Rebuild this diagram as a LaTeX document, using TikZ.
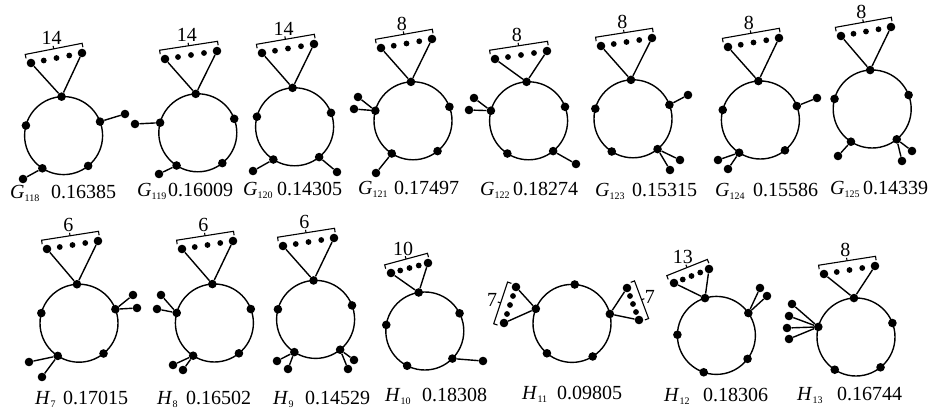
\documentclass[tikz,border=0pt]{standalone}
\usepackage{fontspec}
\setmainfont{Liberation Serif}
\usetikzlibrary{calc}
\tikzset{
  bigdot/.style={circle,fill=black,inner sep=0pt,minimum size=8.6pt},
  smalldot/.style={circle,fill=black,inner sep=0pt,minimum size=5.8pt},
  cycline/.style={line width=1.4pt},
  edg/.style={line width=1.4pt},
  brk/.style={line width=1.1pt},
  txt/.style={inner sep=0pt,font=\fontsize{20}{24}\selectfont},
}
% cycle with five vertices: name, cx, cy, rotation
\newcommand\cyc[4]{%
  \coordinate (#1c) at (#2,#3);
  \draw[cycline] (#1c) circle[radius=39pt];
  \foreach \kk/\ang in {1/90,2/162,3/234,4/306,5/18}{%
    \node[bigdot] (#1-\kk) at ($(#1c)+({\ang+#4}:39pt)$) {};}%
}
% pendant: from, name, x, y
\newcommand\pend[4]{%
  \node[bigdot] (#2) at (#3,#4) {};
  \draw[edg] (#1) -- (#2);}
% fan: name, apex, Lx, Ly, Rx, Ry, label, label distance
\newcommand\fan[8]{%
  \node[bigdot] (#1L) at (#3,#4) {};
  \node[bigdot] (#1R) at (#5,#6) {};
  \foreach \pos/\idx in {0.25/1,0.5/2,0.75/3}{%
    \node[smalldot] (#1m\idx) at ($(#1L)!\pos!(#1R)$) {};}
  \draw[edg] (#2) -- (#1L);
  \draw[edg] (#2) -- (#1R);
  \coordinate (#1p) at ($(#1L)!-4pt!(#1R)$);
  \coordinate (#1q) at ($(#1R)!-2pt!(#1L)$);
  \coordinate (#1P) at ($(#1p)!9.5pt!90:(#1q)$);
  \coordinate (#1Q) at ($(#1q)!9.5pt!-90:(#1p)$);
  \coordinate (#1Pt) at ($(#1P)!4pt!-90:(#1Q)$);
  \coordinate (#1Qt) at ($(#1Q)!4pt!90:(#1P)$);
  \coordinate (#1M) at ($(#1P)!0.5!(#1Q)$);
  \coordinate (#1Mt) at ($(#1M)!3pt!90:(#1Q)$);
  \draw[brk] (#1Pt) -- (#1P) -- (#1Q) -- (#1Qt);
  \draw[brk] (#1M) -- (#1Mt);
  \node[txt] (#1n) at ($(#1M)!#8!90:(#1Q)$) {#7};
}
% graph label: name, letter, subscript, x, baseline y, number x, number
\newcommand\glab[7]{%
  \node[txt,anchor=base west] (#1a) at (#4,#5) {\textit{#2}\raisebox{-3pt}{\fontsize{10}{10}\selectfont #3}};
  \node[txt,anchor=base west] (#1b) at (#6,#5) {#7};
}
\begin{document}
\begin{tikzpicture}[x=1pt,y=1pt]
\useasboundingbox (0,0) rectangle (935,416);

% G118
\cyc{g118}{63.6}{280.4}{3}
\fan{g118f}{g118-1}{31}{353}{82}{363}{14}{11pt}
\pend{g118-5}{g118p1}{125}{302}
\pend{g118-3}{g118p2}{23}{237}
\glab{g118l}{G}{118}{10}{218}{51}{0.16385}

% G119
\cyc{g119}{197.8}{283.2}{3}
\fan{g119f}{g119-1}{165}{357}{217}{365}{14}{11pt}
\pend{g119-2}{g119p1}{135}{292}
\pend{g119-3}{g119p2}{159}{242}
\glab{g119l}{G}{119}{137}{219.5}{168}{0.16009}

% G120
\cyc{g120}{294.6}{289.2}{3}
\fan{g120f}{g120-1}{262}{363}{314}{372}{14}{11pt}
\pend{g120-3}{g120p1}{253}{245}
\pend{g120-4}{g120p2}{337}{244}
\glab{g120l}{G}{120}{243}{221}{277}{0.14305}

% G121
\cyc{g121}{413}{295.2}{3}
\fan{g121f}{g121-1}{381}{368}{432}{377}{8}{11pt}
\pend{g121-2}{g121p1}{358}{319}
\pend{g121-2}{g121p2}{354}{307}
\pend{g121-3}{g121p3}{376}{243}
\glab{g121l}{G}{121}{358}{221.5}{394}{0.17497}

% G122
\cyc{g122}{528.6}{295.2}{3}
\fan{g122f}{g122-1}{495}{357}{547}{365}{8}{11pt}
\pend{g122-2}{g122p1}{474}{318}
\pend{g122-2}{g122p2}{469}{306}
\pend{g122-4}{g122p3}{576}{252}
\glab{g122l}{G}{122}{480}{221}{513}{0.18274}

% G123
\cyc{g123}{633}{297.2}{3}
\fan{g123f}{g123-1}{601}{370}{652}{378}{8}{11pt}
\pend{g123-5}{g123p1}{688}{321}
\pend{g123-4}{g123p2}{680}{256}
\pend{g123-4}{g123p3}{670}{246}
\glab{g123l}{G}{123}{595}{220}{632}{0.15315}

% G124
\cyc{g124}{760.4}{296}{3}
\fan{g124f}{g124-1}{728}{369}{779}{378}{8}{11pt}
\pend{g124-5}{g124p1}{817}{318}
\pend{g124-3}{g124p2}{718}{256}
\pend{g124-3}{g124p3}{728}{247}
\glab{g124l}{G}{124}{715}{220}{753}{0.15586}

% G125
\cyc{g125}{872.2}{307}{3}
\fan{g125f}{g125-1}{841}{380}{891}{389}{8}{11pt}
\pend{g125-3}{g125p1}{838}{260}
\pend{g125-4}{g125p2}{912}{265}
\pend{g125-4}{g125p3}{902}{255}
\glab{g125l}{G}{125}{830}{222}{863}{0.14339}

% H7
\cyc{h7}{79}{92.8}{3}
\fan{h7f}{h7-1}{47}{167}{98}{175}{6}{11pt}
\pend{h7-5}{h7p1}{133}{121}
\pend{h7-5}{h7p2}{137}{108}
\pend{h7-3}{h7p3}{29}{54}
\pend{h7-3}{h7p4}{42}{39}
\glab{h7l}{H}{7}{35}{11.5}{63}{0.17015}

% H8
\cyc{h8}{214.4}{93}{3}
\fan{h8f}{h8-1}{182}{167}{233}{175}{6}{11pt}
\pend{h8-2}{h8p1}{161}{121}
\pend{h8-2}{h8p2}{157}{107}
\pend{h8-3}{h8p3}{173}{51}
\pend{h8-3}{h8p4}{183}{46}
\glab{h8l}{H}{8}{157}{11.5}{186}{0.16502}

% H9
\cyc{h9}{315.6}{96.6}{3}
\fan{h9f}{h9-1}{283}{170}{334}{178}{6}{11pt}
\pend{h9-3}{h9p1}{277}{55}
\pend{h9-3}{h9p2}{288}{47}
\pend{h9-4}{h9p3}{354}{56}
\pend{h9-4}{h9p4}{348}{47}
\glab{h9l}{H}{9}{273}{11.5}{305}{0.14529}

% H10
\cyc{h10}{424.8}{85}{9}
\fan{h10f}{h10-1}{391}{143}{428}{153}{10}{11pt}
\pend{h10-4}{h10p1}{483}{55}
\glab{h10l}{H}{10}{385}{14.5}{422}{0.18308}

% H11
\cyc{h11}{572}{92.6}{-4}
\fan{h11f}{h11-2}{504}{93}{516}{129}{7}{9pt}
\fan{h11g}{h11-5}{627}{128}{639}{96}{7}{9pt}
\glab{h11l}{H}{11}{522}{16.5}{557}{0.09805}

% H12
\cyc{h12}{716.4}{80.6}{17}
\fan{h12f}{h12-1}{674}{133}{709}{147}{13}{11pt}
\pend{h12-5}{h12p1}{760}{128}
\pend{h12-5}{h12p2}{767}{120}
\glab{h12l}{H}{12}{664}{14.5}{703}{0.18306}

% H13
\cyc{h13}{856}{79}{3}
\fan{h13f}{h13-1}{824}{142}{875}{150}{8}{11pt}
\pend{h13-2}{h13p1}{792}{112}
\pend{h13-2}{h13p2}{789}{100}
\pend{h13-2}{h13p3}{787}{88}
\pend{h13-2}{h13p4}{789}{77}
\glab{h13l}{H}{13}{797}{15.5}{837}{0.16744}
\end{tikzpicture}
\end{document}
